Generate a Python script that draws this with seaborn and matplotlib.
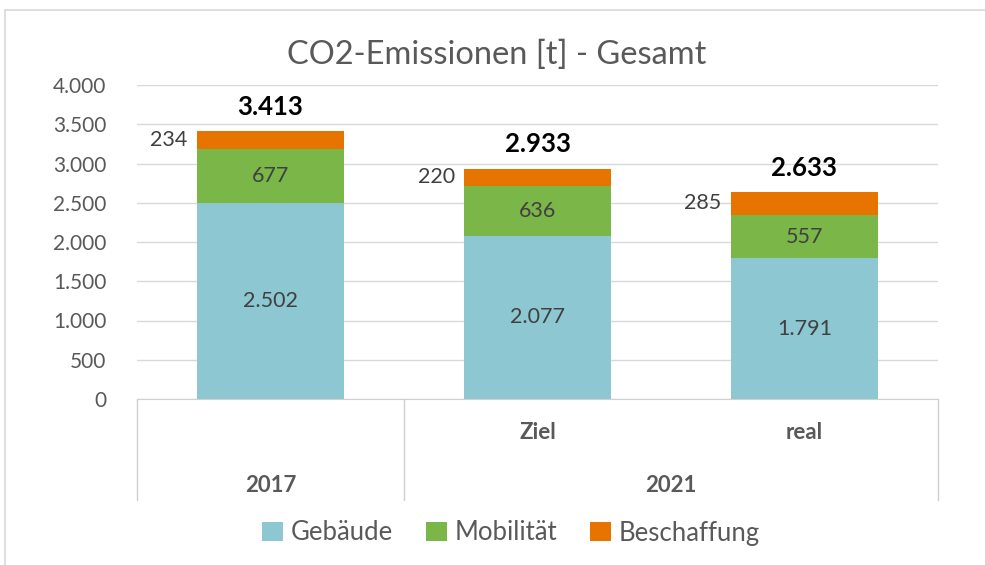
import matplotlib
matplotlib.use('Agg')
import matplotlib.pyplot as plt
import seaborn as sns
import pandas as pd
from matplotlib.patches import Rectangle, Patch

# data
categories = ['2017', '2021 Ziel', '2021 real']
sub_labels = ['', 'Ziel', 'real']
group_labels = ['2017', '2021']
gebaeude = [2502, 2077, 1791]
mobilitaet = [677, 636, 557]
beschaffung = [234, 220, 285]
totals = [3413, 2933, 2633]

colors = {'Gebäude': '#8CC7D2', 'Mobilität': '#7AB648', 'Beschaffung': '#E87400'}
grey = '#595959'

sns.set_style('white')
plt.rcParams['font.family'] = ['Lato', 'DejaVu Sans']


def de(v):
    return f"{v:,}".replace(",", ".")


df = pd.DataFrame({'Kategorie': categories, 'Gebäude': gebaeude,
                   'Mobilität': mobilitaet, 'Beschaffung': beschaffung})
df['geb_mob'] = df['Gebäude'] + df['Mobilität']
df['gesamt'] = df['geb_mob'] + df['Beschaffung']

fig = plt.figure(figsize=(9.85, 5.65), dpi=100)
ax = fig.add_axes([137/985, 1-399/565, (938-137)/985, (399-85)/565])

# stacked bars: draw cumulative layers from top down
for col, key in [('gesamt', 'Beschaffung'), ('geb_mob', 'Mobilität'), ('Gebäude', 'Gebäude')]:
    sns.barplot(data=df, x='Kategorie', y=col, color=colors[key], width=0.55,
                saturation=1, linewidth=0, edgecolor='none', ax=ax, zorder=3)

ax.set_ylim(0, 4000)
ax.set_xlim(-0.5, 2.5)
ax.set_yticks(range(0, 4001, 500))
ax.set_yticklabels([de(v) for v in range(0, 4001, 500)], color=grey, fontsize=15)
ax.tick_params(axis='y', length=0, pad=22)
ax.tick_params(axis='x', length=0)
ax.set_xticklabels([])
ax.set_xlabel('')
ax.set_ylabel('')
ax.yaxis.grid(True, color='#D9D9D9', linewidth=1, zorder=0)
for s in ['top', 'right', 'left']:
    ax.spines[s].set_visible(False)
ax.spines['bottom'].set_color('#D0D0D0')
ax.spines['bottom'].set_zorder(4)

# data labels
for i in range(len(categories)):
    ax.text(i, gebaeude[i] / 2, de(gebaeude[i]), ha='center', va='center',
            fontsize=15.5, color='#404040', zorder=5)
    ax.text(i, gebaeude[i] + mobilitaet[i] / 2, de(mobilitaet[i]), ha='center',
            va='center', fontsize=15.5, color='#404040', zorder=5)
    ax.text(i - 0.275 - 0.035, gebaeude[i] + mobilitaet[i] + beschaffung[i] / 2,
            de(beschaffung[i]), ha='right', va='center', fontsize=15.5,
            color='#404040', zorder=5)
    ax.text(i, totals[i] + 310, de(totals[i]), ha='center', va='center',
            fontsize=18.5, fontweight='bold', color='black', zorder=5)

# multi-level category axis
tr = ax.get_xaxis_transform()
for x in [-0.5, 0.5, 2.5]:
    ax.plot([x, x], [0, -0.322], transform=tr, color='#D0D0D0', lw=1, clip_on=False)
for i, lab in enumerate(sub_labels):
    if lab:
        ax.text(i, -0.108, lab, transform=tr, ha='center', va='center',
                fontsize=16, fontweight='bold', color=grey)
ax.text(0, -0.277, group_labels[0], transform=tr, ha='center', va='center',
        fontsize=16, fontweight='bold', color=grey)
ax.text(1.5, -0.277, group_labels[1], transform=tr, ha='center', va='center',
        fontsize=16, fontweight='bold', color=grey)

fig.text(497/985, 1-55/565, 'CO2-Emissionen [t] - Gesamt', ha='center', va='center',
         fontsize=23.5, color=grey)

handles = [Patch(facecolor=c, edgecolor='none', label=k) for k, c in colors.items()]
fig.legend(handles=handles, loc='center', bbox_to_anchor=(511/985, 1-533/565), ncol=3,
           frameon=False, fontsize=18.5, labelcolor=grey, handlelength=0.8,
           handleheight=0.8, handletextpad=0.3, columnspacing=1.3)

# chart frame
fig.patches.append(Rectangle((5/985, -0.05), 1.0, 1-10/565+0.05, transform=fig.transFigure,
                             fill=False, edgecolor='#D9D9D9', lw=1.2))

fig.savefig('out.png', dpi=100)
